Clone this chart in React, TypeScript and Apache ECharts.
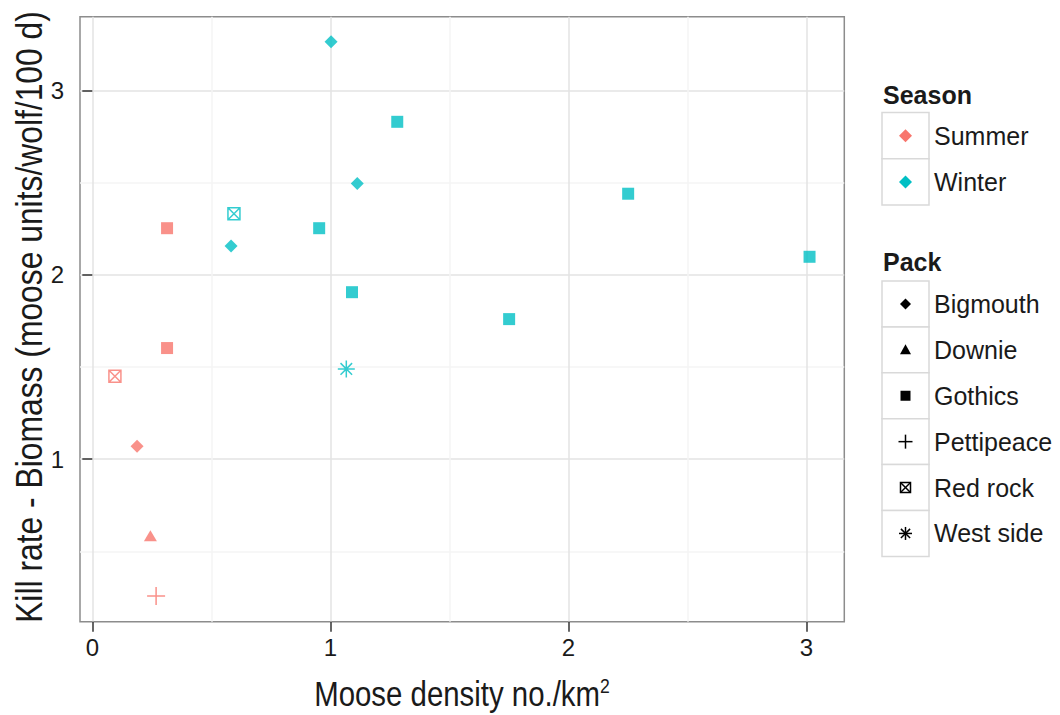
import React, { useEffect, useRef } from "react";
import * as echarts from "echarts";

// ---------------- data ----------------
const seasons = ["Summer", "Winter"];
const packs = ["Bigmouth", "Downie", "Gothics", "Pettipeace", "Red rock", "West side"];

const obsSeason = [
  "Summer", "Summer", "Summer", "Summer", "Summer", "Summer",
  "Winter", "Winter", "Winter", "Winter", "Winter", "Winter",
  "Winter", "Winter", "Winter", "Winter", "Winter",
];
const obsPack = [
  "Gothics", "Gothics", "Red rock", "Bigmouth", "Downie", "Pettipeace",
  "Bigmouth", "Gothics", "Bigmouth", "Red rock", "Gothics", "Bigmouth",
  "Gothics", "West side", "Gothics", "Gothics", "Gothics",
];
const mooseDensity = [
  0.314, 0.314, 0.095, 0.188, 0.244, 0.268,
  1.003, 1.281, 1.113, 0.595, 0.953, 0.583,
  1.091, 1.067, 2.251, 3.013, 1.751,
];
const killRate = [
  2.253, 1.603, 1.45, 1.07, 0.585, 0.258,
  3.264, 2.83, 2.495, 2.331, 2.253, 2.156,
  1.906, 1.49, 2.44, 2.098, 1.76,
];

const xTicks = [0, 1, 2, 3];
const xMinorTicks = [0.5, 1.5, 2.5];
const yTicks = [1, 2, 3];
const yMinorTicks = [0.5, 1.5, 2.5];

const xTitle = "Moose density no./km";
const xTitleSup = "2";
const yTitle = "Kill rate - Biomass (moose units/wolf/100 d)";

// ---------------- styles ----------------
const seasonColors: Record<string, string> = { Summer: "#F8766D", Winter: "#00BFC4" };
const FONT = "'Liberation Sans', Arial, sans-serif";

const plusPath = "path://M0,5L10,5M5,0L5,10";
const boxXPath = "path://M0,0L10,0L10,10L0,10ZM0,0L10,10M10,0L0,10";
const starPath = "path://M5,0L5,10M0,5L10,5M1.6,1.6L8.4,8.4M8.4,1.6L1.6,8.4";

const packStyle: Record<string, { symbol: string; size: any; outline: boolean }> = {
  Bigmouth: { symbol: "diamond", size: 13, outline: false },
  Downie: { symbol: "triangle", size: [13, 11], outline: false },
  Gothics: { symbol: "rect", size: 12, outline: false },
  Pettipeace: { symbol: plusPath, size: 18, outline: true },
  "Red rock": { symbol: boxXPath, size: 12, outline: true },
  "West side": { symbol: starPath, size: 17, outline: true },
};

function legendKey(pack: string | null, cx: number, cy: number, color: string): any[] {
  const ls = { stroke: color, lineWidth: 1.5 };
  if (pack === null || pack === "Bigmouth") {
    const h = pack === null ? 6.5 : 5.5;
    return [{ type: "polygon", shape: { points: [[cx, cy - h], [cx + h, cy], [cx, cy + h], [cx - h, cy]] }, style: { fill: color } }];
  }
  if (pack === "Downie") {
    return [{ type: "polygon", shape: { points: [[cx, cy - 5.5], [cx + 5.5, cy + 4.5], [cx - 5.5, cy + 4.5]] }, style: { fill: color } }];
  }
  if (pack === "Gothics") {
    return [{ type: "rect", shape: { x: cx - 5, y: cy - 5, width: 10, height: 10 }, style: { fill: color } }];
  }
  if (pack === "Pettipeace") {
    return [
      { type: "line", shape: { x1: cx - 7, y1: cy, x2: cx + 7, y2: cy }, style: ls },
      { type: "line", shape: { x1: cx, y1: cy - 7, x2: cx, y2: cy + 7 }, style: ls },
    ];
  }
  if (pack === "Red rock") {
    return [
      { type: "rect", shape: { x: cx - 5, y: cy - 5, width: 10, height: 10 }, style: { fill: "none", ...ls } },
      { type: "line", shape: { x1: cx - 5, y1: cy - 5, x2: cx + 5, y2: cy + 5 }, style: ls },
      { type: "line", shape: { x1: cx + 5, y1: cy - 5, x2: cx - 5, y2: cy + 5 }, style: ls },
    ];
  }
  // West side asterisk
  return [
    { type: "line", shape: { x1: cx, y1: cy - 6.5, x2: cx, y2: cy + 6.5 }, style: ls },
    { type: "line", shape: { x1: cx - 6.5, y1: cy, x2: cx + 6.5, y2: cy }, style: ls },
    { type: "line", shape: { x1: cx - 4.6, y1: cy - 4.6, x2: cx + 4.6, y2: cy + 4.6 }, style: ls },
    { type: "line", shape: { x1: cx + 4.6, y1: cy - 4.6, x2: cx - 4.6, y2: cy + 4.6 }, style: ls },
  ];
}

function buildGraphics(): any[] {
  const els: any[] = [];
  const bx = 882, bw = 47, keyX = 905.5, textX = 934;
  const textStyle = { fontSize: 25, fontFamily: FONT, fill: "#1a1a1a", verticalAlign: "middle", align: "left" };
  // Season legend
  els.push({ type: "text", x: 883, y: 95, style: { ...textStyle, text: "Season", fontWeight: "bold" } });
  const sTop = 112.5, sH = 46.3;
  seasons.forEach((s, i) => {
    const y0 = sTop + i * sH;
    els.push({ type: "rect", shape: { x: bx, y: y0, width: bw, height: sH }, style: { fill: "#ffffff", stroke: "#d9d9d9", lineWidth: 1.5 } });
    els.push(...legendKey(null, keyX, y0 + sH / 2, seasonColors[s]));
    els.push({ type: "text", x: textX, y: y0 + sH / 2, style: { ...textStyle, text: s } });
  });
  // Pack legend
  els.push({ type: "text", x: 883, y: 262, style: { ...textStyle, text: "Pack", fontWeight: "bold" } });
  const pTop = 281, pH = 45.9;
  packs.forEach((p, i) => {
    const y0 = pTop + i * pH;
    els.push({ type: "rect", shape: { x: bx, y: y0, width: bw, height: pH }, style: { fill: "#ffffff", stroke: "#d9d9d9", lineWidth: 1.5 } });
    els.push(...legendKey(p, keyX, y0 + pH / 2, "#000000"));
    els.push({ type: "text", x: textX, y: y0 + pH / 2, style: { ...textStyle, text: p } });
  });
  // Axis titles (condensed by horizontal scaling)
  els.push({
    type: "text",
    x: 462,
    y: 694,
    scaleX: 0.84,
    style: {
      text: `{a|${xTitle}}{b|${xTitleSup}}`,
      align: "center",
      verticalAlign: "middle",
      rich: {
        a: { fontSize: 35, fontFamily: FONT, fill: "#1a1a1a", lineHeight: 39 },
        b: { fontSize: 21, fontFamily: FONT, fill: "#1a1a1a", verticalAlign: "top", lineHeight: 22 },
      },
    },
  });
  els.push({
    type: "text",
    x: 29,
    y: 317,
    rotation: Math.PI / 2,
    scaleX: 0.86,
    style: {
      text: yTitle,
      fontSize: 37,
      fontFamily: FONT,
      fill: "#1a1a1a",
      align: "center",
      verticalAlign: "middle",
    },
  });
  return els;
}

export default function App() {
  const ref = useRef<HTMLDivElement>(null);

  useEffect(() => {
    if (!ref.current) return;
    const chart = echarts.init(ref.current, null, { renderer: "svg" });

    const xMin = -0.0517, xMax = 3.159;
    const yMin = 0.119, yMax = 3.4;

    const series = packs.map((p) => {
      const st = packStyle[p];
      const data: any[] = [];
      for (let i = 0; i < obsPack.length; i++) {
        if (obsPack[i] !== p) continue;
        const c = seasonColors[obsSeason[i]];
        data.push({
          value: [mooseDensity[i], killRate[i]],
          name: obsSeason[i],
          itemStyle: st.outline
            ? { color: "transparent", borderColor: c, borderWidth: 1.5 }
            : { color: c, borderWidth: 0 },
        });
      }
      return {
        type: "scatter",
        name: p,
        xAxisIndex: 0,
        yAxisIndex: 0,
        symbol: st.symbol,
        symbolSize: st.size,
        data,
        z: 5,
      };
    });

    chart.setOption({
      animation: false,
      backgroundColor: "#ffffff",
      textStyle: { fontFamily: FONT },
      grid: {
        left: 80,
        top: 16.7,
        right: 215.7,
        bottom: 93.3,
        containLabel: false,
        outerBoundsMode: "none",
        show: true,
        backgroundColor: "#ffffff",
        borderColor: "#8c8c8c",
        borderWidth: 1.5,
      },
      xAxis: [
        {
          type: "value",
          min: xMin,
          max: xMax,
          position: "bottom",
          axisLine: { show: false },
          axisTick: { show: true, customValues: xTicks, length: 10, lineStyle: { color: "#333333", width: 1.5 } },
          axisLabel: { customValues: xTicks, fontSize: 24, color: "#1a1a1a", margin: 14, fontFamily: FONT },
          splitLine: { show: true, lineStyle: { color: "#e3e3e3", width: 1.5 } },
        },
        {
          type: "value",
          min: xMin,
          max: xMax,
          position: "top",
          axisLine: { show: false },
          axisTick: { show: false, customValues: xMinorTicks },
          axisLabel: { show: false, customValues: xMinorTicks },
          splitLine: { show: true, lineStyle: { color: "#f4f4f4", width: 1.5 } },
        },
      ],
      yAxis: [
        {
          type: "value",
          min: yMin,
          max: yMax,
          position: "left",
          axisLine: { show: false },
          axisTick: { show: true, customValues: yTicks, length: 10, lineStyle: { color: "#333333", width: 1.5 } },
          axisLabel: { customValues: yTicks, fontSize: 24, color: "#1a1a1a", margin: 16, fontFamily: FONT },
          splitLine: { show: true, lineStyle: { color: "#e3e3e3", width: 1.5 } },
        },
        {
          type: "value",
          min: yMin,
          max: yMax,
          position: "right",
          axisLine: { show: false },
          axisTick: { show: false, customValues: yMinorTicks },
          axisLabel: { show: false, customValues: yMinorTicks },
          splitLine: { show: true, lineStyle: { color: "#f4f4f4", width: 1.5 } },
        },
      ],
      series,
      graphic: buildGraphics(),
    });

    return () => chart.dispose();
  }, []);

  return (
    <div
      ref={ref}
      style={{ position: "fixed", left: 0, top: 0, width: 1060, height: 715, background: "#fff" }}
    />
  );
}
